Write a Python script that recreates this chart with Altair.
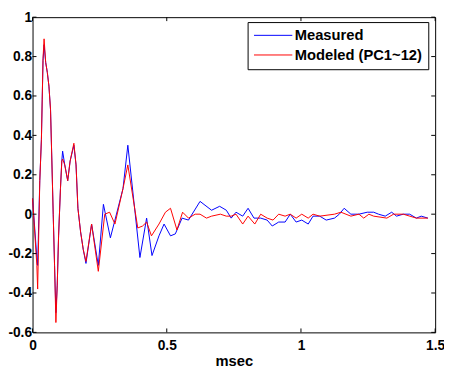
import altair as alt
import pandas as pd

# ---- data ----
t_early = [0, 0.016, 0.019, 0.027, 0.033, 0.036, 0.039, 0.043, 0.049, 0.055, 0.061,
           0.067, 0.072, 0.077, 0.082, 0.087, 0.092, 0.097, 0.104, 0.109, 0.112, 0.120,
           0.131, 0.140, 0.154, 0.162, 0.169, 0.179, 0.189, 0.199, 0.220, 0.245]
measured_early = [0.08, -0.22, -0.26, 0.17, 0.38, 0.58, 0.78, 0.86, 0.77, 0.72, 0.65,
                  0.53, 0.27, 0.0, -0.26, -0.50, -0.36, -0.11, 0.13, 0.27, 0.32, 0.25,
                  0.17, 0.27, 0.35, 0.25, 0.03, -0.09, -0.18, -0.25, -0.05, -0.26]
modeled_early = [0.08, -0.26, -0.38, 0.17, 0.38, 0.58, 0.79, 0.89, 0.77, 0.72, 0.65,
                 0.53, 0.27, 0.0, -0.26, -0.55, -0.36, -0.11, 0.13, 0.27, 0.28, 0.25,
                 0.17, 0.27, 0.36, 0.25, 0.03, -0.09, -0.18, -0.24, -0.05, -0.29]

t_measured_late = [0.264, 0.290, 0.307, 0.337, 0.355, 0.400, 0.425, 0.445, 0.471, 0.490,
                   0.514, 0.532, 0.557, 0.581, 0.624, 0.667, 0.697, 0.722, 0.740, 0.758,
                   0.783, 0.803, 0.825, 0.850, 0.874, 0.893, 0.917, 0.941, 0.960, 0.982,
                   1.003, 1.027, 1.045, 1.070, 1.094, 1.125, 1.143, 1.161, 1.186, 1.216,
                   1.247, 1.271, 1.289, 1.314, 1.338, 1.356, 1.381, 1.405, 1.430, 1.448,
                   1.473]
measured_late = [0.05, -0.12, -0.03, 0.13, 0.35, -0.22, -0.02, -0.21, -0.11, -0.05,
                 -0.11, -0.10, -0.02, -0.03, 0.065, 0.02, 0.04, 0.02, -0.02, 0.01,
                 -0.01, 0.03, -0.02, -0.02, -0.03, -0.06, -0.04, -0.04, 0.0, -0.04,
                 -0.03, -0.05, -0.01, -0.01, -0.03, -0.02, 0.0, 0.03, 0.0, 0.0,
                 0.01, 0.01, 0.0, -0.01, 0.01, -0.01, 0.0, 0.0, -0.02, -0.01,
                 -0.02]

t_modeled_late = [0.269, 0.287, 0.307, 0.337, 0.355, 0.392, 0.410, 0.425, 0.443, 0.471,
                  0.495, 0.514, 0.538, 0.559, 0.581, 0.606, 0.624, 0.648, 0.667, 0.700,
                  0.722, 0.740, 0.758, 0.783, 0.803, 0.828, 0.850, 0.874, 0.896, 0.917,
                  0.941, 0.960, 0.982, 1.003, 1.027, 1.045, 1.070, 1.125, 1.149, 1.186,
                  1.216, 1.234, 1.253, 1.271, 1.320, 1.345, 1.381, 1.430, 1.473]
modeled_late = [0.0, 0.01, -0.05, 0.13, 0.25, -0.07, -0.06, -0.04, -0.11, -0.05,
                0.01, 0.03, -0.08, 0.01, -0.02, 0.0, 0.0, -0.02, -0.01, 0.0,
                -0.01, -0.01, 0.0, -0.05, -0.01, -0.05, 0.0, -0.02, -0.03, 0.0,
                -0.01, 0.0, -0.02, 0.0, -0.02, 0.0, -0.01, 0.0, 0.01, -0.01,
                0.0, -0.02, 0.0, -0.01, -0.02, 0.0, 0.0, -0.02, -0.02]

series_names = ["Measured", "Modeled (PC1~12)"]
series_colors = ["#0000ff", "#ff0000"]
x_ticks = [0, 0.5, 1, 1.5]
y_ticks = [-0.6, -0.4, -0.2, 0, 0.2, 0.4, 0.6, 0.8, 1]

# ---- build tables ----
rows = []
for i, (t, v) in enumerate(zip(t_early + t_measured_late, measured_early + measured_late)):
    rows.append({"t": t, "v": v, "s": series_names[0], "i": i})
for i, (t, v) in enumerate(zip(t_early + t_modeled_late, modeled_early + modeled_late)):
    rows.append({"t": t, "v": v, "s": series_names[1], "i": i})
df = pd.DataFrame(rows)

W, H = 410, 321
FONT = "Liberation Sans"
xs = alt.Scale(domain=[0, 1.5], nice=False, zero=False)
ys = alt.Scale(domain=[-0.6, 1], nice=False, zero=False)
cs = alt.Scale(domain=series_names, range=series_colors)

legend = alt.Legend(
    orient="none", legendX=219, legendY=5, title=None,
    strokeColor="black", fillColor="white", padding=6, cornerRadius=0,
    symbolType="stroke", symbolSize=1521, symbolStrokeWidth=1,
    labelFont=FONT, labelFontSize=15, labelFontWeight="bold", labelColor="black",
    labelOffset=2, rowPadding=4, clipHeight=15,
)

xaxis = alt.Axis(values=x_ticks, labelExpr="toString(datum.value)", title="msec",
                 grid=False, ticks=False, domain=False, labelPadding=6,
                 titlePadding=2, labelFlush=False, labelFontSize=14)
yaxis = alt.Axis(values=y_ticks, labelExpr="toString(datum.value)", title=None,
                 grid=False, ticks=False, domain=False, labelPadding=1,
                 labelFontSize=14)

base = alt.Chart(df)
lines_blue = base.transform_filter(alt.datum.s == series_names[0]).mark_line(
    strokeWidth=1, interpolate="linear").encode(
    x=alt.X("t:Q", scale=xs, axis=xaxis),
    y=alt.Y("v:Q", scale=ys, axis=yaxis),
    color=alt.Color("s:N", scale=cs, legend=legend),
    order="i:Q",
)
lines_red = base.transform_filter(alt.datum.s == series_names[1]).mark_line(
    strokeWidth=1, interpolate="linear").encode(
    x=alt.X("t:Q", scale=xs),
    y=alt.Y("v:Q", scale=ys),
    color=alt.Color("s:N", scale=cs, legend=legend),
    order="i:Q",
)

ydf = pd.DataFrame({"v": y_ticks})
xdf = pd.DataFrame({"v": x_ticks})
tick_style = dict(color="black", strokeWidth=1)
yt_left = alt.Chart(ydf).mark_rule(**tick_style).encode(
    y=alt.Y("v:Q", scale=ys), x=alt.value(0), x2=alt.value(4))
yt_right = alt.Chart(ydf).mark_rule(**tick_style).encode(
    y=alt.Y("v:Q", scale=ys), x=alt.value(W - 4), x2=alt.value(W))
xt_bottom = alt.Chart(xdf).mark_rule(**tick_style).encode(
    x=alt.X("v:Q", scale=xs), y=alt.value(H), y2=alt.value(H - 4))
xt_top = alt.Chart(xdf).mark_rule(**tick_style).encode(
    x=alt.X("v:Q", scale=xs), y=alt.value(0), y2=alt.value(4))

chart = alt.layer(lines_blue, lines_red, yt_left, yt_right, xt_bottom, xt_top).properties(
    width=W, height=H,
    autosize=alt.AutoSizeParams(type="none"),
    padding={"left": 25, "top": 6, "right": 9, "bottom": 37},
    background="white",
).configure_view(stroke="black", strokeWidth=1).configure_axis(
    labelFont=FONT, labelFontSize=15, labelFontWeight="bold", labelColor="black",
    titleFont=FONT, titleFontSize=15, titleFontWeight="bold", titleColor="black",
)

chart.save("out.html", embed_options={"renderer": "svg", "actions": False})
